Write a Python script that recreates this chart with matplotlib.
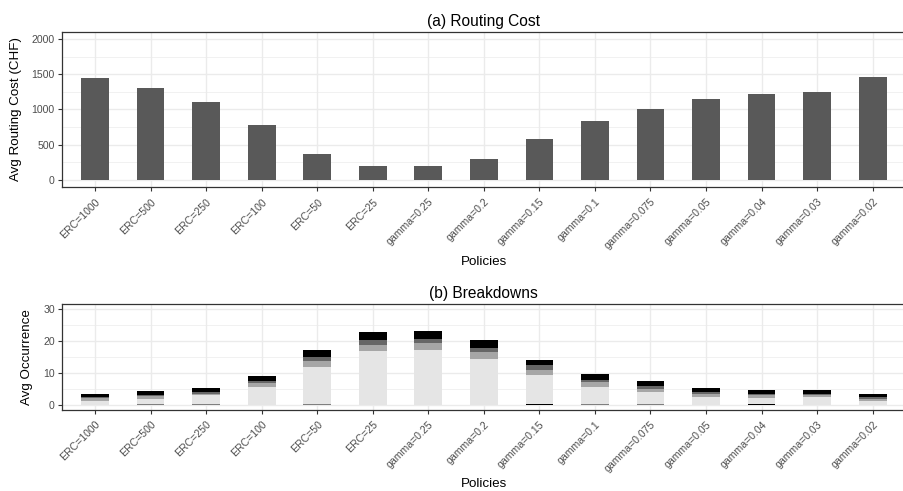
import numpy as np
import matplotlib
matplotlib.use("Agg")
import matplotlib.pyplot as plt
from matplotlib.ticker import MultipleLocator

plt.rcParams['font.family'] = ['Liberation Sans', 'DejaVu Sans']

policies = ["ERC=1000", "ERC=500", "ERC=250", "ERC=100", "ERC=50", "ERC=25",
            "gamma=0.25", "gamma=0.2", "gamma=0.15", "gamma=0.1", "gamma=0.075",
            "gamma=0.05", "gamma=0.04", "gamma=0.03", "gamma=0.02"]

routing_cost = [1447, 1305, 1106, 780, 370, 199, 199, 298, 582, 837, 1007,
                1149, 1220, 1248, 1461]

# breakdown components, stacked bottom to top
tiny_gray = [0.0, 0.15, 0.15, 0.0, 0.15, 0.0, 0.0, 0.0, 0.0, 0.15, 0.15, 0.0, 0.0, 0.0, 0.0]
tiny_black = [0.0, 0.0, 0.0, 0.0, 0.0, 0.0, 0.0, 0.0, 0.2, 0.0, 0.0, 0.0, 0.2, 0.0, 0.0]
light = [1.25, 1.75, 2.75, 5.4, 11.5, 16.65, 16.97, 14.4, 9.2, 5.45, 3.9, 2.5, 2.0, 2.3, 1.25]
mid = [0.7, 0.7, 0.6, 1.25, 1.9, 2.1, 2.2, 2.2, 1.56, 1.56, 0.94, 0.7, 0.7, 0.6, 0.5]
dark = [0.6, 0.5, 0.5, 0.85, 1.25, 1.56, 1.47, 1.25, 1.35, 0.6, 0.94, 0.8, 0.6, 0.5, 0.6]
black = [0.8, 1.25, 1.25, 1.55, 2.4, 2.5, 2.5, 2.5, 1.8, 1.9, 1.56, 1.25, 1.15, 1.25, 1.0]

W, H = 904, 491
fig = plt.figure(figsize=(W / 100, H / 100), dpi=100)

def px_axes(left, top, right, bottom):
    return fig.add_axes([left / W, 1 - bottom / H, (right - left) / W, (bottom - top) / H])

def style(ax, ymaj, ymin):
    ax.set_xlim(0.4, 15.6)
    ax.yaxis.set_major_locator(MultipleLocator(ymaj))
    ax.yaxis.set_minor_locator(MultipleLocator(ymin))
    ax.set_axisbelow(True)
    ax.grid(which='major', color='#EBEBEB', linewidth=1.0)
    ax.grid(which='minor', axis='y', color='#EBEBEB', linewidth=0.5)
    for s in ax.spines.values():
        s.set_color('#333333')
        s.set_linewidth(0.9)
    ax.tick_params(which='major', length=3, width=0.8, color='#333333',
                   labelsize=7.6, labelcolor='#4D4D4D', pad=2)
    ax.tick_params(axis='x', which='major', pad=4)
    ax.tick_params(which='minor', length=0)
    ax.set_xticks(np.arange(1, 16))
    ax.set_xticklabels(policies, rotation=45, ha='right', va='top',
                       rotation_mode='anchor')
    ax.set_xlabel("Policies", fontsize=9.6, labelpad=3)

x = np.arange(1, 16)

# (a) routing cost
ax1 = px_axes(61.7, 32, 906, 187)
ax1.bar(x, routing_cost, width=0.5, color='#595959')
ax1.set_ylim(-100, 2100)
style(ax1, 500, 250)
ax1.set_ylabel("Avg Routing Cost (CHF)", fontsize=9.6, labelpad=7)
ax1.set_title("(a) Routing Cost", fontsize=11.2, pad=4)

# (b) breakdowns
ax2 = px_axes(61.7, 304, 906, 409.5)
bottom = np.zeros(15)
for vals, col in [(tiny_black, '#000000'), (tiny_gray, '#7F7F7F'), (light, '#E5E5E5'),
                  (mid, '#A6A6A6'), (dark, '#666666'), (black, '#000000')]:
    ax2.bar(x, vals, width=0.5, bottom=bottom, color=col)
    bottom += np.array(vals)
ax2.set_ylim(-1.5, 31.5)
style(ax2, 10, 5)
ax2.set_ylabel("Avg Occurrence", fontsize=9.6, labelpad=7)
ax2.set_title("(b) Breakdowns", fontsize=11.2, pad=4)

fig.savefig("out.png", dpi=100)
